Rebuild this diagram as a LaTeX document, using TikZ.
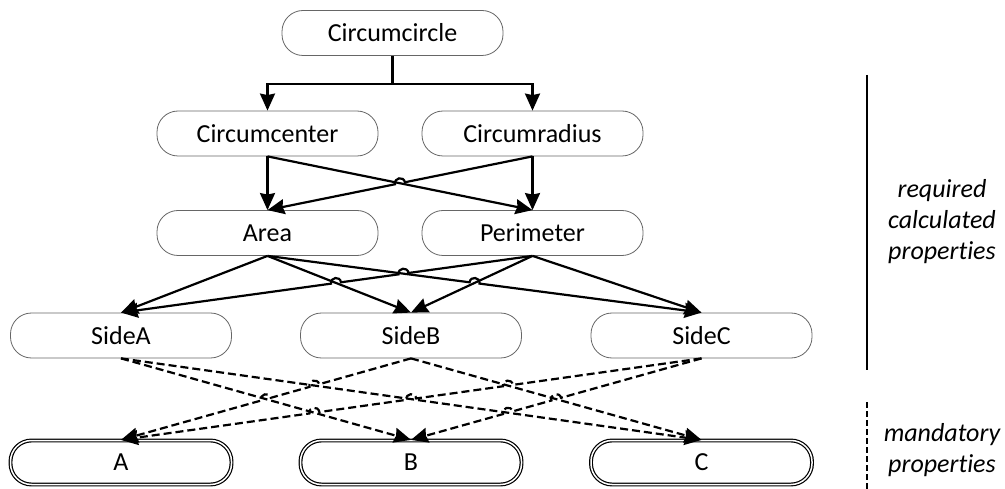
\documentclass[tikz,border=0pt]{standalone}
\usepackage{fontspec}
\setmainfont{Carlito}[Ligatures={NoCommon,NoContextual}]
\usetikzlibrary{arrows.meta,calc,intersections}
\def\hoprad{5pt}
\begin{document}
\begin{tikzpicture}[x=1pt,y=-1pt,
  box/.style={draw=black!60, line width=0.8pt, rounded corners=21pt,
    minimum width=221pt, minimum height=45pt, inner sep=0pt,
    font=\fontsize{26}{31}\selectfont},
  given/.style={box, draw=black, line width=1.2pt, double, double distance=1.5pt,
    minimum width=221pt, minimum height=44pt},
  link/.style={line width=2.2pt},
  conn/.style={link, -{Stealth[length=17pt,width=15pt,inset=1.5pt]}},
  dconn/.style={conn, dash pattern=on 8pt off 4pt},
  hopL/.style={bend left=90, looseness=1.7},
  hopR/.style={bend right=90, looseness=1.7},
  note/.style={align=center, font=\fontsize{26}{31}\selectfont\itshape},
]
\useasboundingbox (0,0) rectangle (1005,489);

% property boxes
\node[box] (circle) at (392.5,33) {Circumcircle};
\node[box] (center) at (267.5,133.5) {Circumcenter};
\node[box] (radius) at (532.5,133.5) {Circumradius};
\node[box] (area)   at (267.5,233) {Area};
\node[box] (perim)  at (532.5,233) {Perimeter};
\node[box] (sa) at (121,335.5) {SideA};
\node[box] (sb) at (411,335.5) {SideB};
\node[box] (sc) at (701.5,335.5) {SideC};
\node[given] (a) at (121,462.5) {A};
\node[given] (b) at (411,462.5) {B};
\node[given] (c) at (701.5,462.5) {C};

% fork below the circumcircle
\coordinate (fork) at ($(circle.south)+(0,28)$);
\draw[link] (circle.south) -- (fork);
\draw[conn] (fork) -| (center.north);
\draw[conn] (fork) -| (radius.north);

% circumcenter / circumradius -> area / perimeter
\path[name path=p-cp] (center.south) -- (perim.north);
\path[name path=p-ra] (radius.south) -- (area.north);
\path[name intersections={of=p-cp and p-ra, by=j1}];
\draw[conn] (center.south) -- (area.north);
\draw[conn] (radius.south) -- (perim.north);
\draw[conn] (center.south) -- (perim.north);
\draw[conn] (radius.south) -- ($(j1)!\hoprad!(radius.south)$)
  to[hopR] ($(j1)!\hoprad!(area.north)$) -- (area.north);

% area / perimeter -> sides
\path[name path=p-ab] (area.south) -- (sb.north);
\path[name path=p-ac] (area.south) -- (sc.north);
\path[name path=p-pa] (perim.south) -- (sa.north);
\path[name path=p-pb] (perim.south) -- (sb.north);
\path[name intersections={of=p-ac and p-pb, by=j2}];
\path[name intersections={of=p-pa and p-ac, by=j3}];
\path[name intersections={of=p-pa and p-ab, by=j4}];
\draw[conn] (area.south) -- (sa.north);
\draw[conn] (area.south) -- (sb.north);
\draw[conn] (perim.south) -- (sb.north);
\draw[conn] (perim.south) -- (sc.north);
\draw[conn] (area.south) -- ($(j2)!\hoprad!(area.south)$)
  to[hopL] ($(j2)!\hoprad!(sc.north)$) -- (sc.north);
\draw[conn] (perim.south) -- ($(j3)!\hoprad!(perim.south)$)
  to[hopR] ($(j3)!\hoprad!(sa.north)$) -- ($(j4)!\hoprad!(perim.south)$)
  to[hopR] ($(j4)!\hoprad!(sa.north)$) -- (sa.north);

% sides -> mandatory values
\path[name path=d-ab] (sa.south) -- (b.north);
\path[name path=d-ac] (sa.south) -- (c.north);
\path[name path=d-ba] (sb.south) -- (a.north);
\path[name path=d-bc] (sb.south) -- (c.north);
\path[name path=d-ca] (sc.south) -- (a.north);
\path[name path=d-cb] (sc.south) -- (b.north);
\path[name intersections={of=d-ba and d-ac, by=k1}];
\path[name intersections={of=d-ba and d-ab, by=k2}];
\path[name intersections={of=d-ca and d-bc, by=k3}];
\path[name intersections={of=d-ca and d-ac, by=k4}];
\path[name intersections={of=d-ca and d-ab, by=k5}];
\path[name intersections={of=d-cb and d-bc, by=k6}];
\path[name intersections={of=d-cb and d-ac, by=k7}];
\draw[dconn] (sa.south) -- (b.north);
\draw[dconn] (sa.south) -- (c.north);
\draw[dconn] (sb.south) -- (c.north);
\draw[dconn] (sb.south) -- ($(k1)!\hoprad!(sb.south)$)
  to[hopR] ($(k1)!\hoprad!(a.north)$) -- ($(k2)!\hoprad!(sb.south)$)
  to[hopR] ($(k2)!\hoprad!(a.north)$) -- (a.north);
\draw[dconn] (sc.south) -- ($(k3)!\hoprad!(sc.south)$)
  to[hopR] ($(k3)!\hoprad!(a.north)$) -- ($(k4)!\hoprad!(sc.south)$)
  to[hopR] ($(k4)!\hoprad!(a.north)$) -- ($(k5)!\hoprad!(sc.south)$)
  to[hopR] ($(k5)!\hoprad!(a.north)$) -- (a.north);
\draw[dconn] (sc.south) -- ($(k6)!\hoprad!(sc.south)$)
  to[hopR] ($(k6)!\hoprad!(b.north)$) -- ($(k7)!\hoprad!(sc.south)$)
  to[hopR] ($(k7)!\hoprad!(b.north)$) -- (b.north);

% legend
\coordinate (calc top) at (867,75);
\coordinate (calc bottom) at (867,370);
\coordinate (mand top) at (867,402);
\coordinate (mand bottom) at (867,489);
\draw[line width=2pt] (calc top) -- (calc bottom);
\draw[line width=1.5pt, dash pattern=on 6pt off 3pt] (mand top) -- (mand bottom);
\node[note] (calc label) at (942,222) {required\\calculated\\properties};
\node[note] (mand label) at (942,450) {mandatory\\properties};
\end{tikzpicture}
\end{document}
